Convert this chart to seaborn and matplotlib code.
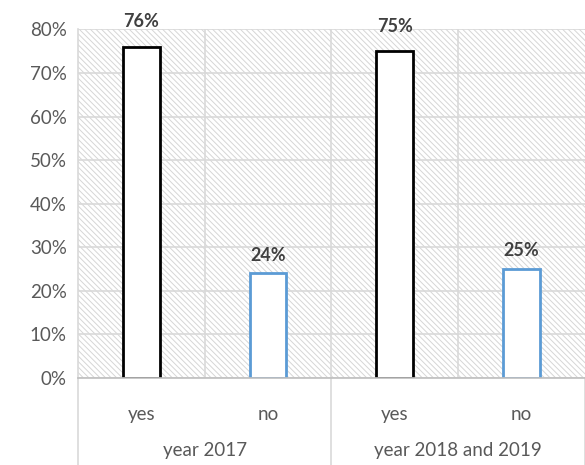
import matplotlib
matplotlib.use("Agg")
import matplotlib.pyplot as plt
import seaborn as sns
import pandas as pd
from matplotlib.patches import Rectangle
from matplotlib.lines import Line2D

groups = ["year 2017", "year 2018 and 2019"]
answers = ["yes", "no", "yes", "no"]
group_of_bar = ["year 2017", "year 2017", "year 2018 and 2019", "year 2018 and 2019"]
values = [0.76, 0.24, 0.75, 0.25]
yticks = [0, 0.1, 0.2, 0.3, 0.4, 0.5, 0.6, 0.7, 0.8]

sns.set_theme(style="white")
plt.rcParams["font.family"] = ["Lato", "DejaVu Sans"]
plt.rcParams["hatch.linewidth"] = 0.7
plt.rcParams["hatch.color"] = "#d6d6d6"

df = pd.DataFrame({"key": [f"{g}|{a}" for g, a in zip(group_of_bar, answers)],
                   "answer": answers, "value": values})

fig = plt.figure(figsize=(5.85, 4.65), dpi=100)
ax = fig.add_axes([0.1333, 0.187, 0.8667, 0.7498])

ax.add_patch(Rectangle((0, 0), 1, 1, transform=ax.transAxes, facecolor="white",
                       edgecolor="#d6d6d6", hatch="\\\\\\\\\\\\", linewidth=0, zorder=0))

sns.barplot(data=df, x="key", y="value", color="white", width=0.29, ax=ax,
            saturation=1, zorder=3)

edge_colors = {"yes": "black", "no": "#5b9bd5"}
for patch, ans in zip(ax.patches[-len(values):], answers):
    patch.set_facecolor("white")
    patch.set_edgecolor(edge_colors[ans])
    patch.set_linewidth(2.0)
    patch.set_zorder(3)

ax.set_xlim(-0.5, len(values) - 0.5)
ax.set_ylim(0, 0.8)
ax.set_yticks(yticks)
ax.set_yticklabels([f"{int(round(t*100))}%" for t in yticks], fontsize=13.5, color="#595959")
ax.set_xticks(range(len(values)))
ax.set_xticklabels(answers, fontsize=13.5, color="#595959")
ax.tick_params(axis="x", length=0, pad=20)
ax.tick_params(axis="y", length=0, pad=8)
ax.set_xlabel("")
ax.set_ylabel("")

grid_c = "#d9d9d9"
for t in yticks:
    ax.axhline(t, color=grid_c, lw=1.2, zorder=1)
for xb in [0.5, 1.5, 2.5]:
    ax.axvline(xb, color=grid_c, lw=1.2, zorder=1)
for s in ["top", "right"]:
    ax.spines[s].set_visible(False)
ax.spines["left"].set_color(grid_c)
ax.spines["left"].set_linewidth(1.2)
ax.spines["bottom"].set_color("#bfbfbf")
ax.spines["bottom"].set_linewidth(1.2)
ax.spines["bottom"].set_zorder(4)

trans = ax.get_xaxis_transform()
for xb in [-0.5, 1.5, 3.5]:
    ax.add_line(Line2D([xb, xb], [0, -0.26], transform=trans, color=grid_c,
                       lw=1.2, clip_on=False))
for i, g in enumerate(groups):
    ax.text(2 * i + 0.5, -0.208, g, transform=trans, ha="center", va="center",
            fontsize=13.5, color="#595959")

for i, v in enumerate(values):
    off = 7 if v < 0.7 else 12
    ax.annotate(f"{int(round(v*100))}%", (i, v), xytext=(0, off), textcoords="offset points",
                ha="center", va="bottom", fontsize=13, fontweight="bold",
                color="#404040", annotation_clip=False)

fig.savefig("out.png", dpi=100)
